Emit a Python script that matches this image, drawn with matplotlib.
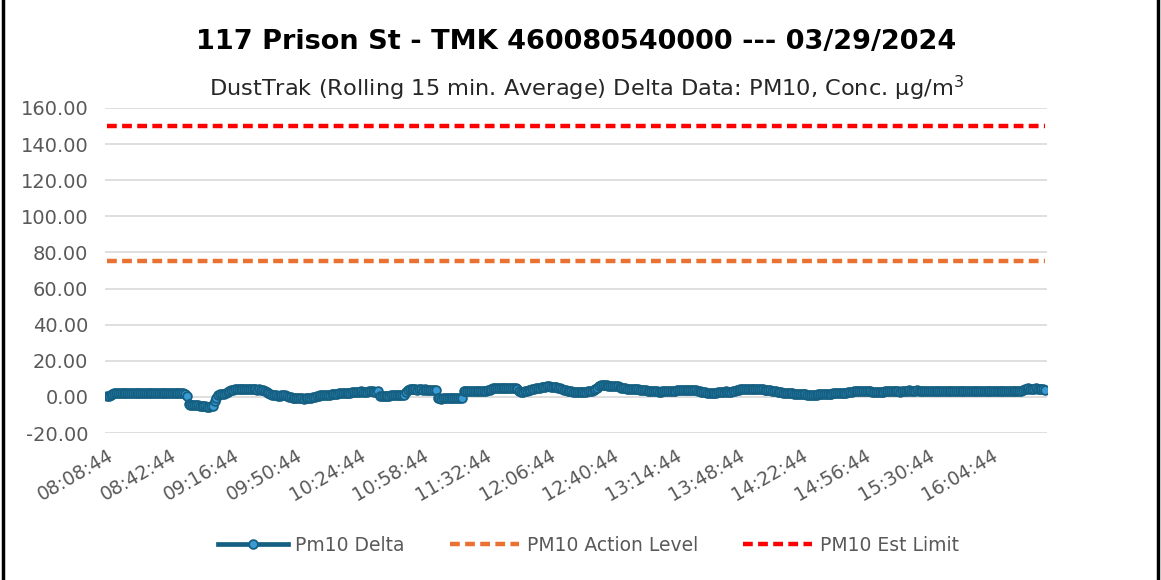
import matplotlib.pyplot as plt
import matplotlib.lines as mlines
import pandas as pd

plt.rcParams['font.family'] = ['DejaVu Sans']

# rolling 15 min average of PM10 delta, one value per minute from 08:08:44
pm10_delta = [
    0.4, 0.6, 1.0, 1.5, 1.9, 2.0, 2.1, 2.2, 2.3, 2.3, 2.2, 2.3, 2.4, 2.4, 2.4, 2.3, 2.3,
    2.2, 2.2, 2.3, 2.4, 2.4, 2.3, 2.1, 2.0, 2.0, 2.1, 2.1, 2.1, 2.1, 2.0, 2.0, 2.1, 2.1,
    2.0, 2.0, 2.1, 2.1, 2.0, 2.0, 2.1, 2.0, 1.8, 0.5, -3.8, -4.5, -4.6, -4.6, -4.7, -4.7, -4.8,
    -4.9, -5.0, -5.2, -5.4, -5.5, -5.3, -4.8, -2.5, -0.5, 0.8, 1.4, 1.5, 1.8, 2.2, 2.6, 3.1, 3.6,
    4.0, 4.3, 4.4, 4.5, 4.4, 4.5, 4.5, 4.4, 4.3, 4.4, 4.3, 4.2, 4.2, 4.1, 4.2, 4.0, 3.8,
    3.2, 2.6, 2.0, 1.6, 1.2, 1.0, 0.8, 0.7, 0.7, 0.8, 1.0, 0.9, 0.6, 0.2, -0.3, -0.6, -0.7,
    -0.6, -0.5, -0.7, -0.8, -0.9, -0.7, -0.6, -0.5, -0.4, -0.2, 0.0, 0.3, 0.6, 0.9, 1.0, 1.0, 0.9,
    1.0, 1.2, 1.4, 1.5, 1.5, 1.6, 1.9, 2.1, 2.0, 1.9, 2.0, 2.2, 2.4, 2.5, 2.7, 2.8, 2.9,
    2.9, 3.0, 2.9, 2.8, 2.9, 3.0, 3.1, 3.0, 2.8, 2.9, 3.0, 0.5, 0.4, 0.5, 0.6, 0.6, 0.7,
    0.8, 0.9, 0.8, 0.9, 1.0, 1.1, 1.1, 1.0, 2.5, 3.9, 4.2, 4.3, 4.2, 4.2, 4.1, 4.2, 4.2,
    4.1, 4.2, 4.0, 4.0, 4.1, 4.1, 4.0, 3.9, -0.5, -0.8, -0.9, -0.8, -0.7, -0.7, -0.8, -0.7, -0.7,
    -0.6, -0.6, -0.7, -0.7, -0.6, 3.0, 3.3, 3.2, 3.3, 3.2, 3.1, 3.2, 3.3, 3.2, 3.3, 3.4, 3.5,
    3.5, 3.6, 3.8, 4.2, 4.8, 5.0, 5.1, 5.0, 4.9, 5.0, 5.1, 5.0, 4.9, 4.9, 5.0, 4.8, 4.7,
    4.2, 3.5, 2.6, 2.7, 3.0, 3.5, 3.9, 4.1, 4.3, 4.5, 4.8, 5.0, 5.2, 5.4, 5.6, 5.7, 5.8,
    5.8, 5.7, 5.6, 5.5, 5.3, 5.0, 4.7, 4.4, 4.1, 3.8, 3.5, 3.2, 3.0, 2.8, 2.7, 2.7, 2.6,
    2.7, 2.8, 2.8, 2.9, 3.0, 3.2, 3.5, 3.8, 4.3, 5.0, 6.0, 6.5, 6.6, 6.5, 6.4, 6.3, 6.2,
    6.2, 6.1, 6.0, 5.8, 5.5, 5.2, 4.9, 4.7, 4.6, 4.5, 4.5, 4.4, 4.3, 4.2, 4.2, 4.1, 4.0,
    3.9, 3.7, 3.5, 3.4, 3.2, 3.1, 3.0, 3.0, 2.9, 2.9, 3.0, 3.0, 3.1, 3.2, 3.3, 3.2, 3.3,
    3.4, 3.6, 3.8, 4.0, 4.1, 4.1, 4.0, 4.0, 3.9, 4.0, 4.0, 3.8, 3.5, 3.1, 2.8, 2.6, 2.5,
    2.4, 2.4, 2.3, 2.3, 2.4, 2.4, 2.5, 2.6, 2.7, 2.9, 3.0, 2.9, 2.8, 2.9, 3.2, 3.5, 3.8,
    4.0, 4.2, 4.3, 4.4, 4.5, 4.6, 4.6, 4.5, 4.4, 4.5, 4.4, 4.3, 4.3, 4.2, 4.1, 4.0, 3.9,
    3.7, 3.5, 3.2, 3.0, 2.8, 2.6, 2.5, 2.4, 2.3, 2.2, 2.1, 2.0, 1.9, 1.8, 1.8, 1.7, 1.6,
    1.6, 1.5, 1.4, 1.3, 1.2, 1.0, 0.9, 1.1, 1.3, 1.4, 1.5, 1.5, 1.6, 1.6, 1.5, 1.7, 1.8,
    1.9, 2.0, 2.0, 2.1, 2.2, 2.3, 2.3, 2.4, 2.5, 2.6, 2.8, 3.0, 3.2, 3.4, 3.5, 3.4, 3.3,
    3.2, 3.1, 3.0, 3.0, 2.9, 2.9, 2.8, 2.8, 2.7, 2.8, 2.9, 3.0, 3.2, 3.4, 3.5, 3.4, 3.2,
    3.0, 3.0, 2.9, 3.0, 3.1, 3.2, 3.4, 3.6, 3.5, 3.3, 3.4, 3.6, 3.5, 3.2, 3.0, 3.0, 3.1,
    3.1, 3.2, 3.1, 3.0, 3.1, 3.2, 3.3, 3.2, 3.1, 3.1, 3.0, 3.1, 3.2, 3.1, 3.1, 3.0, 3.1,
    3.1, 3.2, 3.1, 3.1, 3.0, 3.1, 3.1, 3.2, 3.1, 3.0, 3.1, 3.1, 3.2, 3.1, 3.1, 3.0, 3.1,
    3.1, 3.2, 3.1, 3.1, 3.0, 3.1, 3.2, 3.1, 3.1, 3.0, 3.1, 3.2, 3.2, 3.1, 3.1, 3.2, 3.3,
    3.8, 4.4, 4.6, 4.7, 4.6, 4.5, 4.6, 4.7, 4.4, 4.2, 4.3, 4.5, 4.1,
]
start_time = "08:08:44"
action_level = 75.0
est_limit = 150.0
tick_every = 34  # minutes between x labels

times = pd.date_range("2024-03-29 " + start_time, periods=len(pm10_delta), freq="1min")
time_labels = [t.strftime("%H:%M:%S") for t in times]
x = list(range(len(pm10_delta)))

fig = plt.figure(figsize=(11.61, 5.80), dpi=100)
ax = fig.add_axes([0.0904, 0.2534, 0.8114, 0.5604])

ax.plot(x, pm10_delta, color="#156082", lw=3.4, marker="o", ms=6.3,
        mfc="#3a9bd4", mec="#156082", mew=1.3, label="Pm10 Delta", zorder=3)
ax.plot(x, [action_level] * len(x), color="#E97132", lw=3.2, ls=(0, (2.2, 1.2)),
        label="PM10 Action Level", zorder=2)
ax.plot(x, [est_limit] * len(x), color="#FF0000", lw=3.2, ls=(0, (2.2, 1.2)),
        label="PM10 Est Limit", zorder=2)

ax.set_xlim(-1, len(x))
ax.set_ylim(-20, 160)
ax.set_yticks(range(-20, 161, 20))
ax.set_yticklabels([f"{v:.2f}" for v in range(-20, 161, 20)])
ticks = x[::tick_every]
ax.set_xticks(ticks)
ax.set_xticklabels([time_labels[i] for i in ticks], rotation=30, ha="right",
                   rotation_mode="anchor")
ax.tick_params(axis="both", length=0, colors="#595959")
ax.tick_params(axis="x", pad=9, labelsize=13.5)
ax.tick_params(axis="y", pad=12, labelsize=14)
ax.grid(axis="y", color="#d9d9d9", lw=1.2)
ax.set_axisbelow(True)
for s in ax.spines.values():
    s.set_visible(False)

fig.text(0.496, 0.928, "117 Prison St - TMK 460080540000 --- 03/29/2024",
         ha="center", va="center", fontsize=19.5, fontweight="bold")
fig.text(0.505, 0.848, "DustTrak (Rolling 15 min. Average) Delta Data: PM10, Conc. µg/m$^3$",
         ha="center", va="center", fontsize=16.2, color="#262626")

leg = fig.legend(loc="center", bbox_to_anchor=(0.507, 0.06), ncol=3, frameon=False,
                 fontsize=13.5, handlelength=3.7, handletextpad=0.4, columnspacing=2.4)
for t in leg.get_texts():
    t.set_color("#595959")

# chart frame: only the side edges are inside the cropped screenshot
for xf in (0.003, 0.997):
    fig.lines.append(mlines.Line2D([xf, xf], [0, 1], transform=fig.transFigure,
                                   color="black", lw=2.5))

fig.savefig("out.png", dpi=100)
